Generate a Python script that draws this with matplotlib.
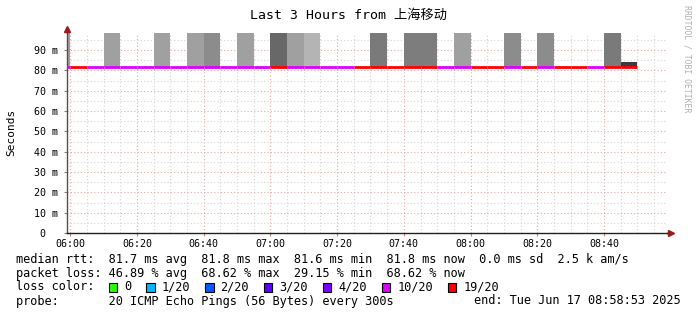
import matplotlib
matplotlib.use("Agg")
import matplotlib.pyplot as plt
from matplotlib.patches import Rectangle

# data: 5 minute steps, minutes after 06:00
step_start = [-5, 0, 5, 10, 15, 20, 25, 30, 35, 40, 45, 50, 55,
              60, 65, 70, 75, 80, 85, 90, 95, 100, 105, 110, 115,
              120, 125, 130, 135, 140, 145, 150, 155, 160, 165]
median_ms = [81.7, 81.7, 81.7, 81.7, 81.7, 81.7, 81.7, 81.7, 81.7, 81.7, 81.7, 81.7, 81.7,
             81.7, 81.7, 81.7, 81.7, 81.7, 81.7, 81.7, 81.7, 81.7, 81.7, 81.7, 81.7,
             81.7, 81.7, 81.7, 81.7, 81.7, 81.7, 81.7, 81.7, 81.8, 81.8]
# loss per step (out of 20)
loss = [10, 19, 10, 10, 10, 10, 10, 10, 10, 10, 10, 10, 10,
        19, 10, 10, 10, 10, 19, 19, 19, 19, 19, 10, 10,
        19, 19, 10, 19, 10, 19, 19, 10, 19, 19]
# smoke: top of smoke (ms) and grey shade, None = no smoke
smoke_top = [100, None, None, 100, None, None, 100, None, 100, 100, None, 100, None,
             100, 100, 100, None, None, None, 100, None, 100, 100, None, 100,
             None, None, 100, None, 100, None, None, None, 100, 84.0]
smoke_col = ['#a0a0a0', None, None, '#a0a0a0', None, None, '#a0a0a0', None, '#a0a0a0', '#8c8c8c', None, '#a0a0a0', None,
             '#686868', '#a0a0a0', '#b4b4b4', None, None, None, '#7a7a7a', None, '#7d7d7d', '#7d7d7d', None, '#a0a0a0',
             None, None, '#8c8c8c', None, '#8c8c8c', None, None, None, '#7a7a7a', '#3c3c3c']

loss_levels = [0, 1, 2, 3, 4, 10, 19]
loss_labels = ['0', '1/20', '2/20', '3/20', '4/20', '10/20', '19/20']
loss_colors = ['#26ff00', '#00b8ff', '#0059ff', '#5e00ff', '#7e00ff', '#dd00ff', '#ff0000']

xtick_min = [0, 20, 40, 60, 80, 100, 120, 140, 160]
xtick_lab = ['06:00', '06:20', '06:40', '07:00', '07:20', '07:40', '08:00', '08:20', '08:40']
ytick_ms = [0, 10, 20, 30, 40, 50, 60, 70, 80, 90]
ytick_lab = ['0  ', '10 m', '20 m', '30 m', '40 m', '50 m', '60 m', '70 m', '80 m', '90 m']

mono = ['DejaVu Sans Mono', 'Noto Sans CJK SC']
plt.rcParams['font.family'] = mono

W, H = 697, 315
fig = plt.figure(figsize=(W / 100, H / 100), dpi=100)
fig.patch.set_facecolor('white')

x0, x1, ytop, ybot = 66.5, 667.0, 33.0, 233.0
ax = fig.add_axes([x0 / W, 1 - ybot / H, (x1 - x0) / W, (ybot - ytop) / H])
ax.set_xlim(-1.12, 178.88)
ax.set_ylim(0, 98.4)

# grid
for m in range(0, 180, 5):
    major = m % 20 == 0
    ax.axvline(m, color='#e8a8a8' if major else '#d4d4d4', lw=0.8, ls=(0, (1, 2)), zorder=0)
for v in range(5, 100, 5):
    major = v % 10 == 0
    ax.axhline(v, color='#e8a8a8' if major else '#d4d4d4', lw=0.8, ls=(0, (1, 2)), zorder=0)

# smoke
for s, top, c, med in zip(step_start, smoke_top, smoke_col, median_ms):
    if top is None:
        continue
    ax.bar(s, top - med, bottom=med, width=5, align='edge', color=c, lw=0, zorder=2)

# median line coloured by loss
for s, med, l in zip(step_start, median_ms, loss):
    c = loss_colors[max(i for i, lv in enumerate(loss_levels) if l >= lv)]
    ax.hlines(med, s, s + 5, colors=c, lw=2.0, zorder=3)

ax.set_xticks(xtick_min)
ax.set_xticklabels(xtick_lab, fontsize=7.2)
ax.set_yticks(ytick_ms)
ax.set_yticklabels(ytick_lab, fontsize=7.2)
ax.tick_params(axis='both', length=2, width=0.8, color='#c08080', pad=2)
ax.tick_params(axis='y', pad=4, color='#808080')
for sp in ['top', 'right']:
    ax.spines[sp].set_visible(False)
ax.spines['left'].set_color('#505050')
ax.spines['bottom'].set_color('#202020')
ax.spines['left'].set_linewidth(1)
ax.spines['bottom'].set_linewidth(1)

# axis extensions with arrows
ax.plot([1, 1.006], [0, 0], transform=ax.transAxes, color='#202020', lw=1, clip_on=False)
ax.plot([0, 0], [1, 1.02], transform=ax.transAxes, color='#505050', lw=1, clip_on=False)
ax.plot([1.006], [0], transform=ax.transAxes, marker='>', ms=4, color='#a01818', clip_on=False)
ax.plot([0], [1.022], transform=ax.transAxes, marker='^', ms=4, color='#a01818', clip_on=False)

fig.text(348 / W, 1 - 15 / H, 'Last 3 Hours from 上海移动', ha='center', va='center', fontsize=9.5)
fig.text(11 / W, 1 - 132 / H, 'Seconds', rotation=90, ha='center', va='center', fontsize=8)
fig.text(687 / W, 1 - 5 / H, 'RRDTOOL / TOBI OETIKER', rotation=270, ha='center', va='top',
         fontsize=5.9, color='#b0b0b0')

fs = 8.55
lx = 16 / W
fig.text(lx, 1 - 259 / H, 'median rtt:  81.7 ms avg  81.8 ms max  81.6 ms min  81.8 ms now  0.0 ms sd  2.5 k am/s',
         ha='left', va='center', fontsize=fs)
fig.text(lx, 1 - 273 / H, 'packet loss: 46.89 % avg  68.62 % max  29.15 % min  68.62 % now',
         ha='left', va='center', fontsize=fs)
fig.text(lx, 1 - 287 / H, 'loss color:', ha='left', va='center', fontsize=fs)
fig.text(lx, 1 - 301 / H, 'probe:       20 ICMP Echo Pings (56 Bytes) every 300s',
         ha='left', va='center', fontsize=fs)
fig.text(681 / W, 1 - 301 / H, 'end: Tue Jun 17 08:58:53 2025', ha='right', va='center', fontsize=fs)

cw = 7.1
bx = 108.5
for lab, col in zip(loss_labels, loss_colors):
    fig.patches.append(Rectangle((bx / W, 1 - 291.5 / H), 8.5 / W, 8.5 / H, transform=fig.transFigure,
                                 facecolor=col, edgecolor='black', lw=0.8))
    tx = bx + 15.5
    fig.text(tx / W, 1 - 287 / H, lab, ha='left', va='center', fontsize=fs)
    bx = tx + len(lab) * cw + 15

fig.savefig('out.png', dpi=100, facecolor='white')
